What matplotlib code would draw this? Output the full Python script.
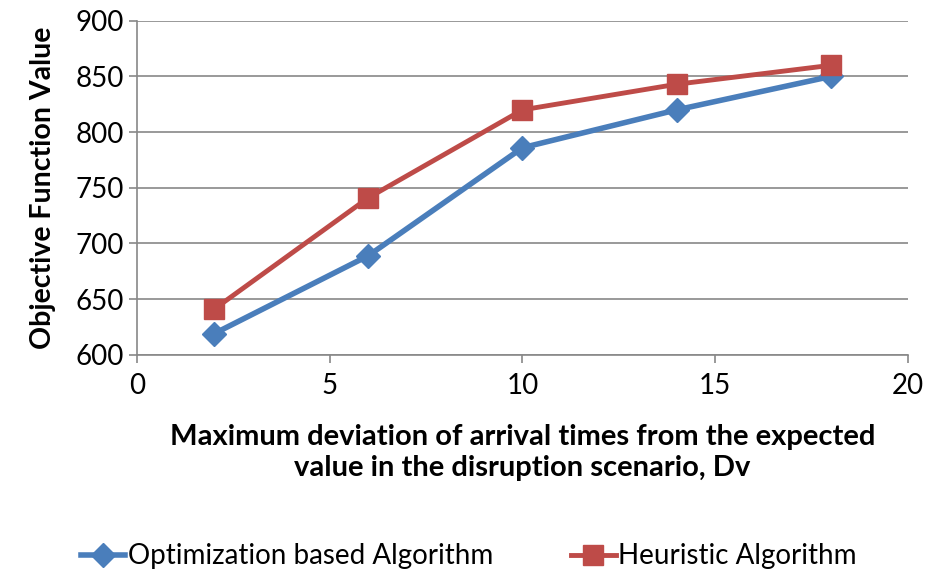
import matplotlib
matplotlib.use("Agg")
import matplotlib.pyplot as plt

# data
dv = [2, 6, 10, 14, 18]
optimization = [619, 689, 786, 820, 850]
heuristic = [641, 741, 820, 843, 860]

plt.rcParams['font.family'] = ['Lato', 'DejaVu Sans']

fig = plt.figure(figsize=(9.38, 5.77), dpi=100, facecolor='#FFFFFF')
ax = fig.add_axes([0.146, 0.385, 0.822, 0.579])

ax.plot(dv, optimization, color='#4A7EBB', lw=4, marker='D', ms=12,
        label='Optimization based Algorithm', zorder=3)
ax.plot(dv, heuristic, color='#BE4B48', lw=3.5, marker='s', ms=15,
        label='Heuristic Algorithm', zorder=3)

ax.set_xlim(0, 20)
ax.set_ylim(600, 900)
ax.set_xticks([0, 5, 10, 15, 20])
ax.set_yticks(range(600, 901, 50))
ax.yaxis.grid(True, color='#888888', lw=1.2)
ax.set_axisbelow(True)
for s in ['top', 'right']:
    ax.spines[s].set_visible(False)
for s in ['left', 'bottom']:
    ax.spines[s].set_color('#888888')
    ax.spines[s].set_linewidth(1.2)
ax.tick_params(axis='both', colors='#888888', labelcolor='black', labelsize=20,
               length=6, width=1.2)
ax.tick_params(axis='x', pad=7)

ax.set_ylabel('Objective Function Value', fontsize=20.5, fontweight='bold', labelpad=14)
ax.set_xlabel('Maximum deviation of arrival times from the expected\nvalue in the disruption scenario, Dv',
              fontsize=21, fontweight='bold', labelpad=18, linespacing=1.25)

fig.legend(loc='lower center', bbox_to_anchor=(0.5, -0.03), ncol=2, frameon=False,
           fontsize=20, handlelength=1.6, handletextpad=0.1, columnspacing=2.8)

fig.savefig('out.png', dpi=100)
